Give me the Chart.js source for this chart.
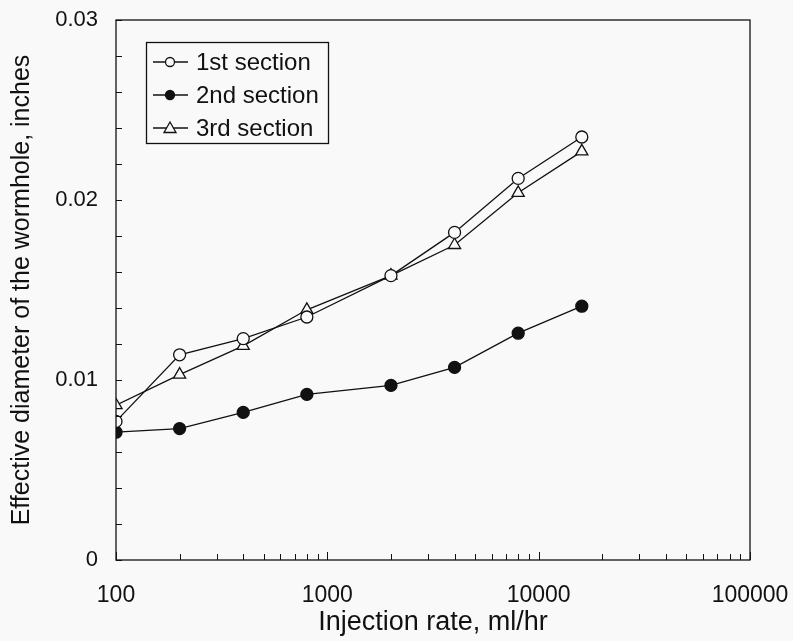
<!DOCTYPE html>
<html>
<head>
<meta charset="utf-8">
<script src="https://cdn.jsdelivr.net/npm/chart.js@4"></script>
<style>
  html, body { margin: 0; padding: 0; background: #f9f9f9; }
  #wrap { width: 793px; height: 641px; }
</style>
</head>
<body>
<div id="wrap"><canvas id="wormholeChart" width="793" height="641"></canvas></div>
<script>
// data
const injectionRates = [100, 200, 400, 800, 2000, 4000, 8000, 16000];
const section1 = [0.0077, 0.0114, 0.0123, 0.0135, 0.0158, 0.0182, 0.0212, 0.0235];
const section2 = [0.0071, 0.0073, 0.0082, 0.0092, 0.0097, 0.0107, 0.0126, 0.0141];
const section3 = [0.0086, 0.0103, 0.0119, 0.0139, 0.0158, 0.0175, 0.0204, 0.0227];
const seriesNames = ['1st section', '2nd section', '3rd section'];
const xTickValues = [100, 1000, 10000, 100000];
const yTickValues = [0, 0.01, 0.02, 0.03];

const FONT = 'Arial, "Liberation Sans", sans-serif';
const INK = '#111';

function toPoints(ys) {
  return injectionRates.map((x, i) => ({ x: x, y: ys[i] }));
}

function makeDataset(label, ys, style, filled) {
  return {
    label: label,
    data: toPoints(ys),
    borderColor: INK,
    borderWidth: 1.3,
    pointStyle: style,
    pointRadius: style === 'triangle' ? 7 : 6,
    pointBorderWidth: 1.3,
    pointBorderColor: INK,
    pointBackgroundColor: filled ? INK : '#f9f9f9',
    tension: 0
  };
}

// inward ticks, frame and the boxed legend inside the plot
const framePlugin = {
  id: 'frame',
  afterDatasetsDraw(chart) {
    const ctx = chart.ctx;
    const area = chart.chartArea;
    const xs = chart.scales.x;
    const ys = chart.scales.y;
    ctx.save();
    ctx.strokeStyle = INK;
    ctx.lineWidth = 1.3;
    ctx.strokeRect(area.left, area.top, area.right - area.left, area.bottom - area.top);

    // y ticks every 0.002
    ctx.lineWidth = 1;
    for (let k = 0; k <= 15; k++) {
      const py = Math.round(ys.getPixelForValue(k * 0.002)) + 0.5;
      ctx.beginPath();
      ctx.moveTo(area.left, py);
      ctx.lineTo(area.left + 6, py);
      ctx.stroke();
    }
    // x ticks at 1..9 of each decade
    for (let dec = 100; dec < 100000; dec *= 10) {
      for (let m = 1; m <= 10; m++) {
        const px = Math.round(xs.getPixelForValue(dec * m)) + 0.5;
        const len = (m === 1 || m === 10) ? 8 : 6;
        ctx.beginPath();
        ctx.moveTo(px, area.bottom);
        ctx.lineTo(px, area.bottom - len);
        ctx.stroke();
      }
    }

    // legend
    const lx = area.left + 30, ly = area.top + 22;
    ctx.lineWidth = 1.3;
    ctx.strokeRect(lx + 0.5, ly + 0.5, 182, 101);
    ctx.font = '24px ' + FONT;
    ctx.textBaseline = 'middle';
    ctx.fillStyle = INK;
    chart.data.datasets.forEach((ds, i) => {
      const cy = ly + 20 + i * 33;
      ctx.beginPath();
      ctx.moveTo(lx + 7, cy);
      ctx.lineTo(lx + 42, cy);
      ctx.stroke();
      drawMarker(ctx, ds.pointStyle, lx + 24, cy, ds.pointBackgroundColor);
      ctx.fillStyle = INK;
      ctx.fillText(ds.label, lx + 50, cy + 1);
    });
    ctx.restore();
  }
};

function drawMarker(ctx, style, x, y, fill) {
  ctx.beginPath();
  if (style === 'triangle') {
    ctx.moveTo(x, y - 6);
    ctx.lineTo(x + 6, y + 4.5);
    ctx.lineTo(x - 6, y + 4.5);
    ctx.closePath();
  } else {
    ctx.arc(x, y, 4.5, 0, Math.PI * 2);
  }
  ctx.fillStyle = fill;
  ctx.fill();
  ctx.stroke();
}

new Chart(document.getElementById('wormholeChart'), {
  type: 'line',
  data: {
    datasets: [
      makeDataset(seriesNames[0], section1, 'circle', false),
      makeDataset(seriesNames[1], section2, 'circle', true),
      makeDataset(seriesNames[2], section3, 'triangle', false)
    ]
  },
  options: {
    responsive: false,
    animation: false,
    layout: { padding: { top: 20, right: 43, left: 0, bottom: 0 } },
    plugins: { legend: { display: false }, tooltip: { enabled: false } },
    scales: {
      x: {
        type: 'logarithmic',
        min: 100,
        max: 100000,
        afterBuildTicks: s => { s.ticks = xTickValues.map(v => ({ value: v })); },
        afterFit: s => { s.height = 81; s.paddingLeft = 0; s.paddingRight = 0; },
        grid: { display: false, drawTicks: false },
        border: { display: false },
        ticks: {
          color: INK,
          font: { family: FONT, size: 23 },
          padding: 22,
          maxRotation: 0,
          autoSkip: false,
          callback: v => String(v)
        },
        title: {
          display: true,
          text: 'Injection rate, ml/hr',
          color: INK,
          font: { family: FONT, size: 27 },
          padding: { top: 0, bottom: 2 }
        }
      },
      y: {
        min: 0,
        max: 0.03,
        afterBuildTicks: s => { s.ticks = yTickValues.map(v => ({ value: v })); },
        afterFit: s => { s.width = 116; s.paddingTop = 0; s.paddingBottom = 0; },
        grid: { display: false, drawTicks: false },
        border: { display: false },
        ticks: {
          color: INK,
          font: { family: FONT, size: 22 },
          padding: 18,
          callback: v => v === 0 ? '0' : v.toFixed(2)
        },
        title: {
          display: true,
          text: 'Effective diameter of the wormhole, inches',
          color: INK,
          font: { family: FONT, size: 25 },
          padding: { top: 7, bottom: 0 }
        }
      }
    }
  },
  plugins: [framePlugin]
});
</script>
</body>
</html>
